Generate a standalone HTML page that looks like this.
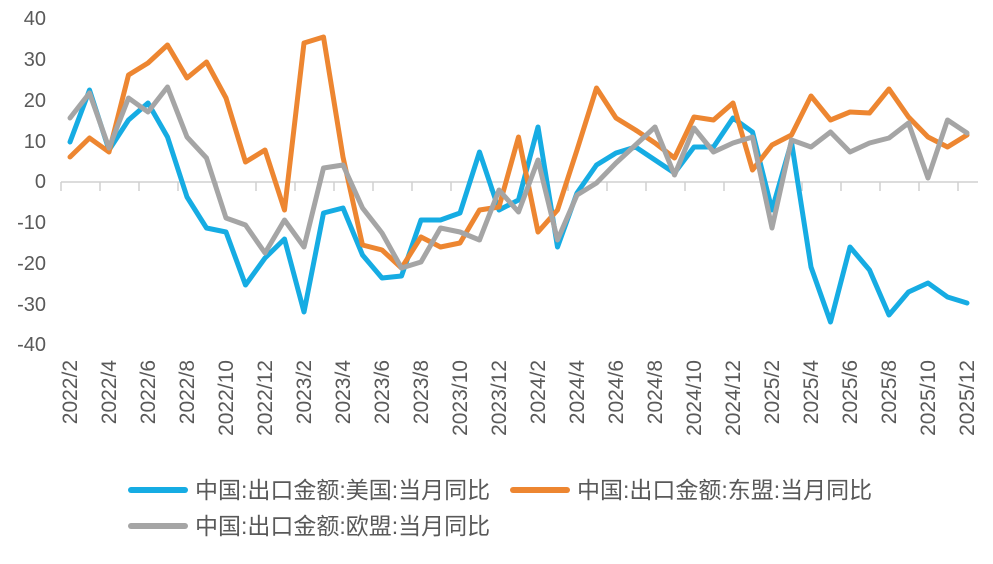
<!DOCTYPE html>
<html><head><meta charset="utf-8"><style>
html,body{margin:0;padding:0;background:#fff;}
svg text{font-family:"Liberation Sans","Noto Sans CJK SC",sans-serif;fill:#595959;}
</style></head><body>
<svg id="s" width="993" height="559" viewBox="0 0 993 559" xmlns="http://www.w3.org/2000/svg">
<g font-size="20" text-anchor="end">
<text x="46" y="25">40</text>
<text x="46" y="66">30</text>
<text x="46" y="107">20</text>
<text x="46" y="148">10</text>
<text x="46" y="188">0</text>
<text x="46" y="229">-10</text>
<text x="46" y="270">-20</text>
<text x="46" y="311">-30</text>
<text x="46" y="351">-40</text>
</g>
<line x1="61" y1="182" x2="978" y2="182" stroke="#d0d0d0" stroke-width="1.5"/>
<g id="ticks" stroke="#d0d0d0" stroke-width="1.5"></g>
<g id="lines" fill="none" stroke-width="5" stroke-linejoin="round" stroke-linecap="round"></g>
<g id="xl" font-size="21" text-anchor="end"></g>
<line x1="131" y1="490" x2="185" y2="490" stroke="#16ACE3" stroke-width="6" stroke-linecap="round"/>
<text x="195" y="498" font-size="23">中国:出口金额:美国:当月同比</text>
<line x1="513" y1="490" x2="567" y2="490" stroke="#ED8631" stroke-width="6" stroke-linecap="round"/>
<text x="577" y="498" font-size="23">中国:出口金额:东盟:当月同比</text>
<line x1="131" y1="526" x2="185" y2="526" stroke="#A5A5A5" stroke-width="6" stroke-linecap="round"/>
<text x="195" y="534" font-size="23">中国:出口金额:欧盟:当月同比</text>
</svg>
<script>
var blue=[142,90,150,120,103,137,197,228,232,285,258,239,312,213,208,255,278,276,220,220,213,152,210,200,127,247,193,165,153,147,160,173,147,147,118,132,210,142,267,322,247,270,315,292,283,297,303];
var orange=[157,138,152,75,63,45,78,62,98,162,150,210,43,37,157,245,250,268,237,247,243,210,207,137,232,210,150,88,118,130,143,158,117,120,103,170,145,135,96,120,112,113,89,117,137,147,135];
var gray=[118,93,148,98,112,87,137,158,218,225,253,220,247,168,165,208,233,268,262,228,232,240,190,212,160,240,195,183,163,145,127,175,128,152,143,137,228,140,147,132,152,143,138,123,178,120,133];
var NS="http://www.w3.org/2000/svg";
function X(i){return 70+19.5*i;}
var g=document.getElementById('lines');
[[blue,'#16ACE3'],[orange,'#ED8631'],[gray,'#A5A5A5']].forEach(function(a){
 var p=document.createElementNS(NS,'polyline');
 p.setAttribute('points',a[0].map(function(y,i){return X(i)+','+y;}).join(' '));
 p.setAttribute('stroke',a[1]);g.appendChild(p);});
var t=document.getElementById('ticks');
for(var k=0;k<=23;k++){var x=61+39*k;if(x>980)break;var l=document.createElementNS(NS,'line');
 l.setAttribute('x1',x);l.setAttribute('x2',x);l.setAttribute('y1',182);l.setAttribute('y2',191);t.appendChild(l);}
var labs=["2022/2","2022/4","2022/6","2022/8","2022/10","2022/12","2023/2","2023/4","2023/6","2023/8","2023/10","2023/12","2024/2","2024/4","2024/6","2024/8","2024/10","2024/12","2025/2","2025/4","2025/6","2025/8","2025/10","2025/12"];
var xl=document.getElementById('xl');
labs.forEach(function(s,j){var x=X(2*j)+7;if(j==23)x=X(46)+7;var e=document.createElementNS(NS,'text');
 e.setAttribute('transform','translate('+x+',360) rotate(-90)');e.textContent=s;xl.appendChild(e);});
</script>
</body></html>
